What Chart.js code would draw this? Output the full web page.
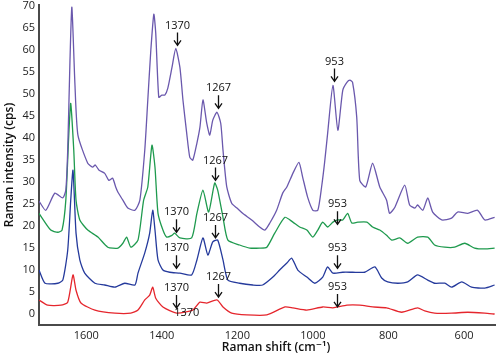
<!DOCTYPE html>
<html>
<head>
<meta charset="utf-8">
<script src="https://cdn.jsdelivr.net/npm/chart.js@4.4.1/dist/chart.umd.min.js"></script>
<style>
html,body{margin:0;padding:0;background:#fff;}
canvas{display:block;}
</style>
</head>
<body>
<canvas id="c" width="500" height="359"></canvas>
<script>
// ---- data (Raman shift in cm-1, intensity in cps) ----
const purpleX = [1725,1707,1683,1662,1654,1649,1643,1638,1630,1622,1596,1583,1576,1566,1551,1540,1530,1522,1516,1503,1490,1471,1458,1445,1437,1429,1421,1416,1408,1400,1392,1384,1373,1363,1352,1344,1334,1326,1318,1307,1299,1291,1281,1273,1265,1254,1244,1238,1228,1215,1201,1186,1162,1141,1127,1114,1096,1080,1069,1053,1037,1027,1014,1000,987,977,969,961,947,934,921,910,902,895,884,876,860,842,823,805,797,783,757,744,730,723,709,696,683,659,633,617,590,564,545,519];
const purpleY = [25.6,23.5,27.4,26.3,28.1,37.2,57.6,69.7,52.4,40.6,34.2,33.3,33.8,32.6,31.9,30.3,30.8,28.8,27.6,25.8,24.0,23.5,25.8,37.2,48.6,59.9,68.1,63.8,49.2,49.7,49.7,51.3,56.0,60.3,56.0,48.6,41.0,35.6,34.9,38.8,42.4,48.6,43.3,40.6,44.0,45.8,43.3,37.2,28.8,25.1,24.0,22.8,21.3,19.7,19.0,20.6,23.5,27.4,28.8,31.9,34.4,31.0,26.5,23.5,23.5,28.8,34.4,41.0,51.9,41.7,50.8,52.6,53.1,52.6,44.7,30.3,28.8,34.2,28.8,25.8,22.8,24.2,29.2,24.7,24.0,24.7,23.5,26.3,23.1,21.3,21.7,23.1,22.8,23.5,21.3,21.9];

const greenX = [1725,1694,1675,1664,1654,1646,1641,1633,1627,1617,1596,1569,1543,1516,1503,1493,1482,1463,1448,1437,1426,1418,1410,1397,1387,1373,1366,1352,1321,1307,1291,1276,1260,1252,1238,1225,1194,1167,1141,1122,1101,1074,1053,1035,1016,1000,987,974,961,947,934,921,908,897,881,857,842,823,805,791,770,749,723,696,678,651,625,598,572,545,519];
const greenY = [22.8,19.0,18.5,19.0,25.8,41.0,47.8,37.2,25.8,21.3,19.0,17.4,15.1,14.9,16.0,17.4,15.1,16.7,25.8,28.8,38.3,33.3,22.8,19.0,17.4,17.8,18.3,17.2,17.2,22.8,28.1,23.1,29.7,28.1,21.9,16.7,15.6,14.9,14.9,15.1,18.3,21.9,20.8,19.7,19.0,17.4,19.0,20.8,19.7,20.8,21.3,21.3,22.8,20.6,20.8,20.8,19.7,19.0,17.8,16.7,17.2,16.0,17.4,17.4,15.6,15.1,15.1,16.0,14.9,14.7,14.9];

const blueX = [1725,1709,1675,1662,1649,1641,1635,1627,1617,1604,1577,1551,1524,1498,1471,1463,1445,1432,1424,1418,1410,1397,1379,1352,1321,1307,1291,1278,1265,1252,1238,1225,1194,1159,1133,1106,1088,1069,1056,1040,1016,995,974,961,947,921,895,863,836,818,802,775,749,723,696,678,651,633,606,580,545,519];
const blueY = [9.9,6.9,6.9,7.6,14.4,25.8,32.6,18.3,12.2,9.2,6.9,6.5,6.0,6.9,6.5,9.2,13.8,18.3,23.5,19.0,12.2,9.9,9.4,9.2,8.8,12.2,17.2,13.3,16.3,16.7,12.2,7.6,6.9,6.5,6.5,8.3,9.9,11.5,12.6,9.9,8.3,6.9,8.3,10.6,9.2,9.4,9.4,9.4,10.6,8.1,7.2,6.9,7.2,8.8,7.6,6.9,6.9,6.0,7.2,6.0,5.8,6.5];

const redX = [1725,1702,1667,1649,1635,1627,1614,1577,1524,1482,1463,1445,1432,1424,1416,1397,1360,1318,1299,1281,1254,1238,1215,1175,1122,1074,1053,1016,974,947,910,876,842,805,765,723,704,678,633,590,545,519];
const redY = [3.1,1.9,1.9,2.6,8.8,5.3,2.4,0.8,0.1,0.1,0.8,3.1,4.2,6.0,3.5,1.5,0.1,0.8,2.6,2.4,3.1,1.5,0.1,-0.3,-0.3,1.5,1.3,0.8,1.5,1.3,1.9,1.9,1.5,1.3,0.3,1.3,0.6,0.1,0.1,0.3,0.1,-0.1];

const xTicks = [1600,1400,1200,1000,800,600];
const yTicks = [0,5,10,15,20,25,30,35,40,45,50,55,60,65,70];

// annotations: arrow x position, arrow tip intensity, label
const annoX    = [1361,1252,945, 1260,1363,937, 1260,1363,937, 1252,1363,937];
const annoTipY = [61.0,46.7,52.8, 30.3,18.5,20.3, 17.2,10.3,10.3, 3.75,1.25,1.5];
const annoText = ['1370','1267','953','1267','1370','953','1267','1370','953','1267','1370','953'];
const extraTextX = [1334];
const extraTextY = [0.1];
const extraText = ['1370'];

const xTitle = 'Raman shift (cm\u207B\u00B9)';
const yTitle = 'Raman intensity (cps)';

const series = [
  {label:'a', xs:purpleX, ys:purpleY, color:'#6a58ad'},
  {label:'b', xs:greenX,  ys:greenY,  color:'#1f9a4e'},
  {label:'c', xs:blueX,   ys:blueY,   color:'#253a9c'},
  {label:'d', xs:redX,    ys:redY,    color:'#e5262d'}
];

const FONT = '"Open Sans", "DejaVu Sans", sans-serif';

const annoPlugin = {
  id: 'annos',
  afterDatasetsDraw(chart) {
    const ctx = chart.ctx, xs = chart.scales.x, ys = chart.scales.y;
    ctx.save();
    ctx.strokeStyle = '#111';
    ctx.fillStyle = '#111';
    ctx.lineWidth = 1.3;
    ctx.font = '11px ' + FONT;
    ctx.textAlign = 'center';
    ctx.textBaseline = 'middle';
    for (let i = 0; i < annoX.length; i++) {
      const px = Math.round(xs.getPixelForValue(annoX[i])) + 0.5;
      const ty = ys.getPixelForValue(annoTipY[i]);
      ctx.beginPath();
      ctx.moveTo(px, ty - 13);
      ctx.lineTo(px, ty);
      ctx.moveTo(px - 3.5, ty - 5);
      ctx.lineTo(px, ty);
      ctx.lineTo(px + 3.5, ty - 5);
      ctx.stroke();
      ctx.fillText(annoText[i], px, ty - 20);
    }
    for (let i = 0; i < extraText.length; i++) {
      ctx.fillText(extraText[i], xs.getPixelForValue(extraTextX[i]), ys.getPixelForValue(extraTextY[i]));
    }
    // x-axis title (slightly right of the plot centre, as in the source figure)
    ctx.font = '600 12px ' + FONT;
    ctx.fillText(xTitle, (chart.chartArea.left + chart.chartArea.right) / 2 + 9, 348);
    ctx.restore();
  }
};

function zeroPad(s){ s.paddingTop=0; s.paddingBottom=0; s.paddingLeft=0; s.paddingRight=0; }

new Chart(document.getElementById('c'), {
  type: 'line',
  data: {
    datasets: series.map(s => ({
      label: s.label,
      data: s.xs.map((x, i) => ({x: x, y: s.ys[i]})),
      borderColor: s.color,
      borderWidth: 1.3,
      pointRadius: 0,
      fill: false,
      tension: 0.2
    }))
  },
  options: {
    responsive: false,
    animation: false,
    devicePixelRatio: 1,
    layout: {padding: {left: 0, right: 5, top: 5, bottom: 0}},
    plugins: {legend: {display: false}, tooltip: {enabled: false}},
    scales: {
      x: {
        type: 'linear',
        reverse: true,
        min: 518,
        max: 1725,
        grid: {display: false, drawTicks: false},
        border: {display: true, color: '#4a4a4a', width: 2},
        afterBuildTicks: s => { s.ticks = xTicks.map(v => ({value: v})); },
        afterFit: s => { s.height = 34; zeroPad(s); },
        ticks: {color: '#222', font: {family: FONT, size: 11}, padding: 4, maxRotation: 0,
                callback: v => String(v)},
        title: {display: false}
      },
      y: {
        type: 'linear',
        min: -2.6,
        max: 70.2,
        grid: {display: false, drawTicks: false},
        border: {display: true, color: '#4a4a4a', width: 2},
        afterBuildTicks: s => { s.ticks = yTicks.map(v => ({value: v})); },
        afterFit: s => { s.width = 39; zeroPad(s); },
        ticks: {color: '#222', font: {family: FONT, size: 11}, padding: 4, callback: v => String(v)},
        title: {display: true, text: yTitle, color: '#111',
                font: {family: FONT, size: 12, weight: '600'}, padding: {top: 2, bottom: 0}}
      }
    }
  },
  plugins: [annoPlugin]
});
</script>
</body>
</html>
